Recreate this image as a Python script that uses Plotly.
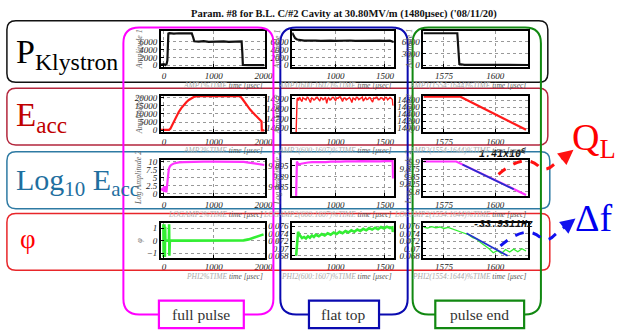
import plotly.graph_objects as go

W, H = 619, 336

# ---------------- data ----------------
# Row 1 : klystron power amplitude
t_p_full = [-60, 0, 30, 55, 70, 80, 90, 110, 200, 300, 400, 500, 560, 590, 610, 700, 800, 900, 1000,
            1100, 1200, 1300, 1400, 1500, 1560, 1575, 1585, 1700, 1850, 2020]
p_full = [150, 250, 0, 300, 1200, 6000, 8100, 8200, 8050, 8150, 8100, 8200, 8100, 7000, 6100, 6000, 6150,
          5950, 6050, 6000, 6100, 5950, 6050, 6000, 6050, 3000, 50, 0, 0, 0]
t_p_flat = [560, 575, 590, 610, 640, 680, 720, 760, 800, 850, 900, 950, 1000, 1050, 1100, 1150, 1200,
            1250, 1300, 1350, 1400, 1450, 1500, 1550, 1580, 1590]
p_flat = [8300, 7400, 6900, 6550, 6350, 6250, 6300, 6200, 6280, 6220, 6300, 6250, 6200, 6280, 6240,
          6300, 6220, 6260, 6200, 6280, 6230, 6290, 6210, 6260, 6000, 5900]
t_p_end = [1565, 1570, 1575, 1580, 1581.5, 1582.5, 1585, 1590, 1600, 1610, 1616]
p_end = [8150, 8100, 8150, 8100, 8150, 300, 100, 80, 60, 50, 40]

# Row 2 : accelerating field amplitude
t_e_full = [-60, 0, 50, 100, 130, 160, 200, 250, 300, 350, 400, 450, 500, 550, 600, 650, 700, 1000,
            1500, 1530, 1580, 1630, 1680, 1730, 1780, 1830, 1880, 1930, 1960, 1965, 2020]
e_full = [200, 200, 200, 300, 1000, 2800, 5500, 8600, 11300, 13600, 15600, 17200, 18600, 19700, 20400,
          20800, 20900, 20900, 20900, 20900, 19000, 16700, 14600, 12700, 11000, 9500, 8000, 6400, 5400, 0, 0]
t_e_flat = [600, 603, 610, 618, 625, 633, 640, 648, 660, 668, 680, 690, 700, 712, 720, 731, 745, 757,
            770, 781, 790, 803, 815, 826, 840, 851, 860, 873, 885, 897, 910, 921, 930, 943, 955, 966,
            980, 991, 1000, 1012, 1025, 1037, 1050, 1061, 1070, 1083, 1095, 1108, 1120, 1131, 1140,
            1152, 1165, 1177, 1190, 1201, 1210, 1222, 1235, 1247, 1260, 1271, 1280, 1293, 1305, 1317,
            1330, 1341, 1350, 1362, 1375, 1387, 1400, 1411, 1420, 1432, 1445, 1457, 1470, 1481, 1490,
            1502, 1515, 1527, 1540, 1551, 1560, 1568, 1575, 1580, 1585]
e_flat = [14560, 14820, 14895, 14905, 14880, 14912, 14905, 14885, 14870, 14908, 14900, 14892, 14885,
          14914, 14910, 14890, 14860, 14905, 14900, 14884, 14890, 14910, 14912, 14893, 14875, 14908,
          14905, 14887, 14895, 14913, 14850, 14896, 14908, 14884, 14890, 14911, 14910, 14888, 14880,
          14906, 14900, 14915, 14915, 14890, 14870, 14903, 14905, 14885, 14895, 14912, 14910, 14893,
          14860, 14906, 14900, 14887, 14912, 14910, 14888, 14897, 14905, 14914, 14875, 14902, 14910,
          14889, 14895, 14909, 14908, 14884, 14865, 14905, 14900, 14912, 14912, 14888, 14890, 14907,
          14905, 14893, 14880, 14910, 14910, 14886, 14895, 14911, 14905, 14888, 14890, 14830, 14840]
t_e_end = [1565, 1570, 1576, 1583, 1615]
e_end = [14900, 14895, 14902, 14900, 13950]

# Row 3 : log10 of field amplitude
t_l_full = [-60, -20, 0, 10, 20, 30, 40, 50, 60, 70, 80, 90, 100, 120, 150, 200, 250, 300, 400, 500,
            600, 800, 1000, 1200, 1400, 1500, 1600, 1700, 1800, 1900, 2000, 2020]
l_full = [1.5, 1.2, 2.2, 0.6, 2.4, 0.9, 1.8, 0.5, 2.0, 3.5, 5.5, 7.0, 7.8, 8.5, 9.0, 9.4, 9.6, 9.75,
          9.85, 9.92, 9.97, 10.0, 10.0, 10.0, 10.0, 9.98, 9.9, 9.7, 9.45, 9.2, 9.0, 8.95]
t_l_flat = [600, 603, 608, 615, 630, 650, 680, 720, 760, 800, 850, 900, 950, 1000, 1050, 1100, 1150,
            1200, 1250, 1300, 1350, 1400, 1450, 1500, 1550, 1578, 1582]
l_flat = [9.881, 9.893, 9.8968, 9.8962, 9.8955, 9.8958, 9.8962, 9.8964, 9.8966, 9.8965, 9.8967, 9.8966,
          9.8968, 9.8967, 9.8968, 9.8969, 9.8968, 9.8969, 9.8970, 9.8969, 9.8970, 9.8970, 9.8969,
          9.8970, 9.8971, 9.8970, 9.889]
t_l_end = [1565, 1581, 1615]
l_end = [9.9, 9.9, 9.79]
t_fit_q = [1584, 1609]
fit_q = [9.89, 9.809]
label_q = "1.41x10<sup>6</sup>"

# Row 4 : phase
t_ph_full = [-10, -5, 0, 5, 10, 15, 20, 25, 30, 40, 60, 80, 100, 105, 110, 115, 120, 400, 800, 1200,
             1600, 1700, 1800, 1900, 2000]
ph_full = [1.3, -1.3, 1.2, 0.6, 1.3, -0.6, -1.3, 1.1, 0.1, 0.0, 0.0, 0.02, 0.0, 1.3, -1.2, 0.3, 0.0,
           0.0, 0.0, 0.0, 0.02, 0.1, 0.22, 0.36, 0.5]
t_ph_flat = [600, 603, 610, 620, 630, 645, 660, 680, 700, 720, 740, 760, 780, 800, 830, 860, 890, 920,
             950, 980, 1010, 1040, 1070, 1100, 1130, 1160, 1190, 1220, 1250, 1280, 1310, 1340, 1370,
             1400, 1430, 1460, 1490, 1520, 1550, 1575, 1580, 1585]
ph_flat = [0.068, 0.0695, 0.0725, 0.0745, 0.0738, 0.0732, 0.0728, 0.0731, 0.0727, 0.0733, 0.0729,
           0.0735, 0.0731, 0.0737, 0.0733, 0.0739, 0.0735, 0.0741, 0.0737, 0.0743, 0.0739, 0.0745,
           0.0741, 0.0747, 0.0743, 0.0749, 0.0745, 0.0751, 0.0747, 0.0753, 0.0749, 0.0755, 0.0751,
           0.0756, 0.0752, 0.0758, 0.0754, 0.0759, 0.0755, 0.0757, 0.0745, 0.0748]
t_ph_end = [1565, 1567, 1569, 1571, 1573, 1575, 1577, 1579, 1581, 1583, 1585, 1587, 1589, 1591, 1593,
            1595, 1597, 1599, 1601, 1603, 1605, 1607, 1609, 1611, 1613, 1615]
ph_end = [0.0758, 0.0755, 0.0759, 0.0756, 0.0758, 0.0754, 0.0757, 0.0753, 0.0750, 0.0745, 0.0741,
          0.0737, 0.0729, 0.0725, 0.0715, 0.0708, 0.0699, 0.0688, 0.0694, 0.0686, 0.0697, 0.0690,
          0.0698, 0.0691, 0.0699, 0.0693]
t_fit_f = [1586, 1606]
fit_f = [0.0741, 0.0680]
label_f = "-33.9311Hz"

row_names = ["P<sub>Klystron</sub>", "E<sub>acc</sub>", "Log<sub>10</sub> E<sub>acc</sub>", "φ"]
col_names = ["full pulse", "flat top", "pulse end"]
title_text = "Param. #8 for B.L. C/#2 Cavity at 30.80MV/m (1480μsec) ('08/11/20)"
x_tick_vals = [[0, 1000, 2000], [1000, 1500], [1575, 1600]]
y_titles = ["Amplitude 1", "Amplitude 2", "Log Amplitude 2", "φ"]
x_title_prefix = ["AMP1", "AMP2", "LOGAMP2", "PHI2"]
x_title_suffix = ["", "(600:1607)", "(1554:1644)"]

# ---------------- layout helpers ----------------
def px(x):
    return x / W


def py(y):
    return 1 - y / H


col_px = [(163, 268), (296, 399), (429, 535)]
row_px = [(29, 65), (95, 132), (160, 197), (225, 260)]
x_ranges = [[-60, 2020], [560, 1590], [1565, 1616]]
y_ranges = [
    [[-375, 8625], [-375, 8625], [-375, 8625]],
    [[-1200, 21000], [14560, 14925], [13880, 14920]],
    [[-0.6, 10.6], [9.881, 9.8977], [9.787, 9.906]],
    [[-1.35, 1.38], [0.0675, 0.0768], [0.0675, 0.0768]],
]
y_ticks = [
    [[0, 2000, 4000, 6000], [0, 2000, 4000, 6000], [0, 3000, 6000]],
    [[0, 5000, 10000, 15000, 20000], [14600, 14700, 14800, 14900], [14000, 14200, 14400, 14600, 14800]],
    [[0, 2.5, 5, 7.5, 10], [9.885, 9.89, 9.895], [9.8, 9.825, 9.85, 9.875, 9.9]],
    [[-1, 0, 1], [0.068, 0.07, 0.072, 0.074, 0.076], [0.068, 0.07, 0.072, 0.074, 0.076]],
]
y_fmt = [".0f", ".0f", "", ""]

series = [
    [(t_p_full, p_full), (t_p_flat, p_flat), (t_p_end, p_end)],
    [(t_e_full, e_full), (t_e_flat, e_flat), (t_e_end, e_end)],
    [(t_l_full, l_full), (t_l_flat, l_flat), (t_l_end, l_end)],
    [(t_ph_full, ph_full), (t_ph_flat, ph_flat), (t_ph_end, ph_end)],
]
row_colors = ["#111111", "#ff1a1a", "#ff33ff", "#33ee33"]
row_widths = [2.2, 2.2, 2.2, 2.6]

fig = go.Figure()
layout = {}
tick_font = dict(family="Liberation Serif", size=9, color="#222", style="italic")

for r in range(4):
    for c in range(3):
        i = r * 3 + c + 1
        xs = "" if i == 1 else str(i)
        tx, ty = series[r][c]
        w = row_widths[r]
        if r == 3 and c == 2:
            w = 1.3
        if r == 1 and c == 1:
            w = 1.4
        fig.add_trace(go.Scatter(x=tx, y=ty, mode="lines", line=dict(color=row_colors[r], width=w),
                                 xaxis="x" + xs, yaxis="y" + xs, showlegend=False, hoverinfo="skip"))
        common = dict(showline=True, linecolor="black", linewidth=1.6, mirror=True, ticks="inside",
                      ticklen=3, tickcolor="black", showgrid=True, gridcolor="#999", griddash="dot",
                      gridwidth=0.8, zeroline=False, tickfont=tick_font, exponentformat="none",
                      tickmode="array")
        layout["xaxis" + xs] = dict(common, domain=[px(col_px[c][0]), px(col_px[c][1])],
                                    range=x_ranges[c], anchor="y" + xs, tickvals=x_tick_vals[c],
                                    tickformat="d")
        layout["yaxis" + xs] = dict(common, domain=[py(row_px[r][1]), py(row_px[r][0])],
                                    range=y_ranges[r][c], anchor="x" + xs, tickvals=y_ticks[r][c],
                                    tickformat=y_fmt[r])

# fitted lines
fig.add_trace(go.Scatter(x=t_fit_q, y=fit_q, mode="lines", line=dict(color="#2233cc", width=1.8),
                         xaxis="x9", yaxis="y9", showlegend=False, hoverinfo="skip"))
fig.add_trace(go.Scatter(x=t_fit_f, y=fit_f, mode="lines", line=dict(color="#2233cc", width=1.8),
                         xaxis="x12", yaxis="y12", showlegend=False, hoverinfo="skip"))


def rrect(x0, y0, x1, y1, r):
    rx, ry = r / W, r / H
    X0, X1, Y0, Y1 = px(x0), px(x1), py(y0), py(y1)
    return (f"M {X0+rx},{Y0} L {X1-rx},{Y0} Q {X1},{Y0} {X1},{Y0-ry} L {X1},{Y1+ry} "
            f"Q {X1},{Y1} {X1-rx},{Y1} L {X0+rx},{Y1} Q {X0},{Y1} {X0},{Y1+ry} L {X0},{Y0-ry} "
            f"Q {X0},{Y0} {X0+rx},{Y0} Z")


def ppath(pts_cmd):
    out = []
    for tok in pts_cmd:
        if isinstance(tok, str):
            out.append(tok)
        else:
            out.append(f"{px(tok[0])},{py(tok[1])}")
    return " ".join(out)


def ann(text, x, y, size, color, family="Liberation Serif", xanchor="center", yanchor="middle",
        **kw):
    font = dict(family=family, size=size, color=color)
    if "style" in kw:
        font["style"] = kw.pop("style")
    return dict(text=text, x=px(x), y=py(y), xref="paper", yref="paper", xanchor=xanchor,
                yanchor=yanchor, showarrow=False, font=font, **kw)


shapes = []
row_boxes = [((7, 18, 555, 81), "#111111"), ((7, 87, 555, 145), "#b3263c"),
             ((7, 152, 557, 210), "#2e7aa3"), ((7, 215, 557, 273), "#e8262a")]
for (x0, y0, x1, y1), col in row_boxes:
    shapes.append(dict(type="path", path=rrect(x0, y0, x1, y1, 9), xref="paper", yref="paper",
                       line=dict(color=col, width=1.5), layer="above"))

col_boxes = [((125, 25, 277, 318), "#ff00ff", (161, 304, 247, 332)),
             ((284, 25, 413, 318), "#0a0ab0", (313, 304, 384, 332)),
             ((418, 25, 548, 318), "#118811", (441, 304, 531, 332))]
annotations = []
for k, ((x0, y0, x1, y1), col, (lx0, ly0, lx1, ly1)) in enumerate(col_boxes):
    shapes.append(dict(type="path", path=rrect(x0, y0, x1, y1, 16), xref="paper", yref="paper",
                       line=dict(color=col, width=2), layer="above"))
    shapes.append(dict(type="rect", x0=px(lx0), x1=px(lx1), y0=py(ly1), y1=py(ly0), xref="paper",
                       yref="paper", line=dict(color=col, width=2.2), fillcolor="white", layer="above"))
    annotations.append(ann(col_names[k], (lx0 + lx1) / 2, (ly0 + ly1) / 2, 15.5, "#333"))

# dashed curved arrows
shapes.append(dict(type="path", xref="paper", yref="paper", layer="above",
                   path=ppath(["M", (505, 175), "Q", (530, 153), (545, 166), "Q", (552, 174), (561, 165),
                               "L", (572, 157)]),
                   line=dict(color="#ff1111", width=3, dash="dash")))
shapes.append(dict(type="path", xref="paper", yref="paper", layer="above",
                   path=ppath(["M", (507, 248), "Q", (532, 226), (547, 239), "Q", (554, 246), (563, 236),
                               "L", (574, 227)]),
                   line=dict(color="#1111ee", width=3, dash="dash")))
annotations.append(dict(x=px(581), y=py(150), xref="paper", yref="paper", ax=-10, ay=8, text="",
                        showarrow=True, arrowhead=2, arrowsize=1, arrowwidth=3, arrowcolor="#ff1111"))
annotations.append(dict(x=px(583), y=py(220), xref="paper", yref="paper", ax=-10, ay=8, text="",
                        showarrow=True, arrowhead=2, arrowsize=1, arrowwidth=3, arrowcolor="#1111ee"))

# row labels
row_label_cfg = [(14, 52, "#000000", 34), (14, 117, "#c00000", 33), (14, 183, "#1f6f9f", 30),
                 (18, 241, "#ff0000", 27)]
for k, (x, y, col, size) in enumerate(row_label_cfg):
    annotations.append(ann(row_names[k], x, y, size, col, xanchor="left"))

annotations.append(ann("Q<sub>L</sub>", 577, 140, 38, "#ff0000", xanchor="left"))
annotations.append(ann("Δf", 581, 220, 38, "#0000ee", xanchor="left"))

annotations.append(ann("<b>" + title_text + "</b>", 349, 11, 10.5, "#111"))

annotations.append(ann("<b>" + label_q + "</b>", 535, 154, 10, "#111", family="Liberation Mono",
                       xanchor="right", style="italic"))
annotations.append(ann("<b>" + label_f + "</b>", 542, 226, 10, "#111", family="Liberation Mono",
                       xanchor="right", style="italic"))

# axis titles
for r in range(4):
    for c in range(3):
        txt = (f"<span style='color:#aaa'>{x_title_prefix[r]}{x_title_suffix[c]}%TIME</span> "
               f"time [μsec]")
        annotations.append(ann(txt, col_px[c][1], row_px[r][1] + 19, 7.5, "#555", xanchor="right",
                               style="italic"))
        yx = col_px[c][0] - (22 if c == 0 else 15)
        annotations.append(ann(y_titles[r], yx, (row_px[r][0] + row_px[r][1]) / 2, 8, "#666",
                               textangle=-90, style="italic"))

layout.update(dict(width=W, height=H, margin=dict(l=0, r=0, t=0, b=0), paper_bgcolor="white",
                   plot_bgcolor="white", shapes=shapes, annotations=annotations, showlegend=False))
fig.update_layout(**layout)
fig.write_html("out.html")
